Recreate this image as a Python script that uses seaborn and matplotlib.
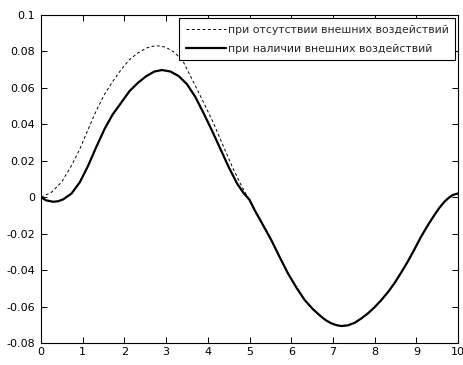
import matplotlib
matplotlib.use("Agg")
import matplotlib.pyplot as plt
import seaborn as sns
import pandas as pd
from matplotlib.ticker import FuncFormatter

# Common tail (both curves coincide after x ~ 5)
x_tail = [5.0, 5.12, 5.32, 5.52, 5.72, 5.92, 6.12, 6.32, 6.52, 6.72, 6.84, 6.96, 7.08, 7.2, 7.36, 7.52, 7.68,
          7.84, 8.0, 8.16, 8.32, 8.47, 8.63, 8.79, 8.95, 9.11, 9.27, 9.43, 9.55, 9.67, 9.77, 9.87, 10]
y_tail = [-0.0015, -0.0070, -0.0152, -0.0235, -0.0328, -0.0418, -0.0495, -0.0564, -0.0615, -0.0656, -0.0677,
          -0.0692, -0.0702, -0.0707, -0.0703, -0.0689, -0.0665, -0.0637, -0.0603, -0.0564, -0.0520, -0.0473,
          -0.0415, -0.0354, -0.0287, -0.0217, -0.0155, -0.0098, -0.0058, -0.0025, -0.0004, 0.0012, 0.0021]

# Curve without external influences (dashed), before joining
x_free_head = [0, 0.25, 0.49, 0.73, 0.93, 1.13, 1.32, 1.52, 1.72, 1.92, 2.12, 2.32, 2.52, 2.64, 2.76, 2.88, 3.0,
               3.2, 3.41, 3.65, 3.89, 4.12, 4.36, 4.6, 4.8, 4.92]
y_free_head = [0, 0.0027, 0.0082, 0.0173, 0.0264, 0.0373, 0.0473, 0.0564, 0.0636, 0.070, 0.0755, 0.0791, 0.0818,
               0.0827, 0.0831, 0.0829, 0.0822, 0.0795, 0.0744, 0.0634, 0.0524, 0.0414, 0.0286, 0.0159, 0.0065, 0.0015]

# Curve with external influences (solid), before joining
x_ext_head = [0, 0.12, 0.29, 0.41, 0.53, 0.73, 0.93, 1.13, 1.32, 1.52, 1.72, 1.92, 2.12, 2.32, 2.52, 2.72, 2.9,
              3.1, 3.3, 3.5, 3.7, 3.9, 4.1, 4.3, 4.5, 4.7, 4.85]
y_ext_head = [0, -0.0017, -0.0025, -0.0022, -0.0012, 0.002, 0.0082, 0.0173, 0.0273, 0.0373, 0.0455, 0.0518,
              0.0582, 0.0627, 0.0664, 0.069, 0.0698, 0.069, 0.0665, 0.062, 0.055, 0.046, 0.0365, 0.0265, 0.0165,
              0.0075, 0.0025]

labels = ["при отсутствии внешних воздействий", "при наличии внешних воздействий"]
x_ticks = list(range(0, 11))
y_ticks = [-0.08, -0.06, -0.04, -0.02, 0, 0.02, 0.04, 0.06, 0.08, 0.1]

sns.set_style("ticks")
plt.rcParams['font.family'] = ['DejaVu Sans']
plt.rcParams['axes.unicode_minus'] = False
plt.rcParams['font.size'] = 8

fig = plt.figure(figsize=(4.64, 3.65), dpi=100)
ax = fig.add_axes([0.0884, 0.0603, 0.8990, 0.8986])

df_free = pd.DataFrame({"x": x_free_head + x_tail, "y": y_free_head + y_tail})
df_ext = pd.DataFrame({"x": x_ext_head + x_tail, "y": y_ext_head + y_tail})
sns.lineplot(data=df_free, x="x", y="y", ax=ax, color="black", linewidth=0.7,
             linestyle=(0, (3, 2.5)), label=labels[0])
sns.lineplot(data=df_ext, x="x", y="y", ax=ax, color="black", linewidth=1.6, label=labels[1])

ax.set_xlim(0, 10)
ax.set_ylim(-0.08, 0.1)
ax.set_xticks(x_ticks)
ax.set_yticks(y_ticks)
ax.yaxis.set_major_formatter(FuncFormatter(lambda v, p: "0" if abs(v) < 1e-12 else ("%g" % round(v, 4))))
ax.set_xlabel("")
ax.set_ylabel("")
ax.tick_params(direction="in", top=True, right=True, length=4, width=0.7, colors="black", labelsize=8)
ax.tick_params(axis="x", pad=2.8)
ax.tick_params(axis="y", pad=4.2)
for s in ax.spines.values():
    s.set_visible(True)
    s.set_color("black")
    s.set_linewidth(0.8)

leg = ax.legend(loc="upper right", fancybox=False, framealpha=1, edgecolor="black",
                handlelength=3.7, handletextpad=0.15, borderaxespad=0.3, borderpad=0.6,
                labelspacing=0.85, fontsize=7.8)
leg.get_frame().set_linewidth(0.8)

fig.savefig("out.png", dpi=100)
